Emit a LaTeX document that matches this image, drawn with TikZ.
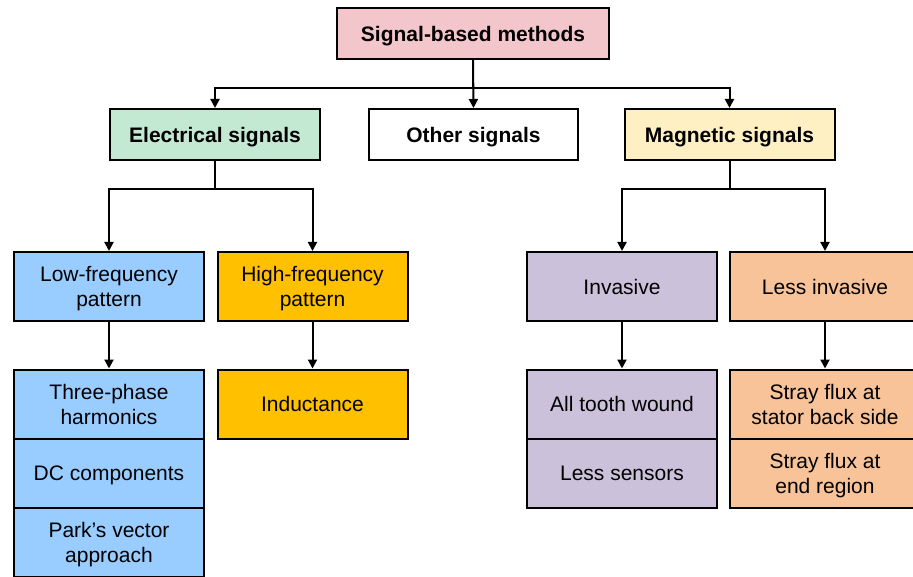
\documentclass[tikz,border=0pt]{standalone}
\usepackage{fontspec}
\setmainfont{Liberation Sans}
\usetikzlibrary{arrows.meta}
\definecolor{cpink}{HTML}{F2C6CB}
\definecolor{cgreen}{HTML}{C4E9D3}
\definecolor{cyellow}{HTML}{FFF0C4}
\definecolor{cblue}{HTML}{99CCFF}
\definecolor{cgold}{HTML}{FFC000}
\definecolor{clav}{HTML}{CCC1DA}
\definecolor{cpeach}{HTML}{F8C398}
\tikzset{
  box/.style={draw=black, line width=2pt, inner sep=0pt, align=center,
    text depth=0pt, font=\fontsize{21}{25}\selectfont},
  hdr/.style={box, minimum height=51pt, font=\fontsize{21}{25}\selectfont\bfseries},
  sub/.style={box, minimum width=190pt, minimum height=69pt},
  conn/.style={line width=2pt, -{Triangle[length=9pt,width=9pt]}},
}
\begin{document}
\begin{tikzpicture}[x=1pt,y=1pt]
\useasboundingbox (0,0) rectangle (913,-577);
\clip (0,0) rectangle (913,-577);
% headers
\node[hdr, fill=cpink, minimum width=272pt] (top) at (473,-33.5) {Signal-based methods};
\node[hdr, fill=cgreen, minimum width=210pt] (elec) at (215,-134.5) {Electrical signals};
\node[hdr, fill=white, minimum width=209pt] (other) at (473.5,-134.5) {Other signals};
\node[hdr, fill=cyellow, minimum width=210pt] (mag) at (729.5,-134.5) {Magnetic signals};
% second level
\node[sub, fill=cblue] (low) at (109,-286.5) {Low-frequency\\pattern};
\node[sub, fill=cgold] (high) at (312.5,-286.5) {High-frequency\\pattern};
\node[sub, fill=clav] (inv) at (622,-286.5) {Invasive};
\node[sub, fill=cpeach] (lessinv) at (825,-286.5) {Less invasive};
% third level
\node[sub, fill=cblue] (three) at (109,-404) {Three-phase\\harmonics};
\node[sub, fill=cblue] (dc) at (109,-473.5) {DC components};
\node[sub, fill=cblue] (park) at (109,-542.5) {Park's vector\\approach};
\node[sub, fill=cgold] (induct) at (312.5,-404) {Inductance};
\node[sub, fill=clav] (tooth) at (622,-404) {All tooth wound};
\node[sub, fill=clav] (sensors) at (622,-473.5) {Less sensors};
\node[sub, fill=cpeach] (stray1) at (825,-404) {Stray flux at\\stator back side};
\node[sub, fill=cpeach] (stray2) at (825,-473.5) {Stray flux at\\end region};
% connectors
\draw[conn] (top.south) -- (other.north);
\draw[conn] (top.south) -- ++(0,-28) -| (elec.north);
\draw[conn] (top.south) -- ++(0,-28) -| (mag.north);
\draw[conn] (elec.south) -- ++(0,-28) -| (low.north);
\draw[conn] (elec.south) -- ++(0,-28) -| (high.north);
\draw[conn] (mag.south) -- ++(0,-28) -| (inv.north);
\draw[conn] (mag.south) -- ++(0,-28) -| (lessinv.north);
\draw[conn] (low.south) -- (three.north);
\draw[conn] (high.south) -- (induct.north);
\draw[conn] (inv.south) -- (tooth.north);
\draw[conn] (lessinv.south) -- (stray1.north);
\end{tikzpicture}
\end{document}
